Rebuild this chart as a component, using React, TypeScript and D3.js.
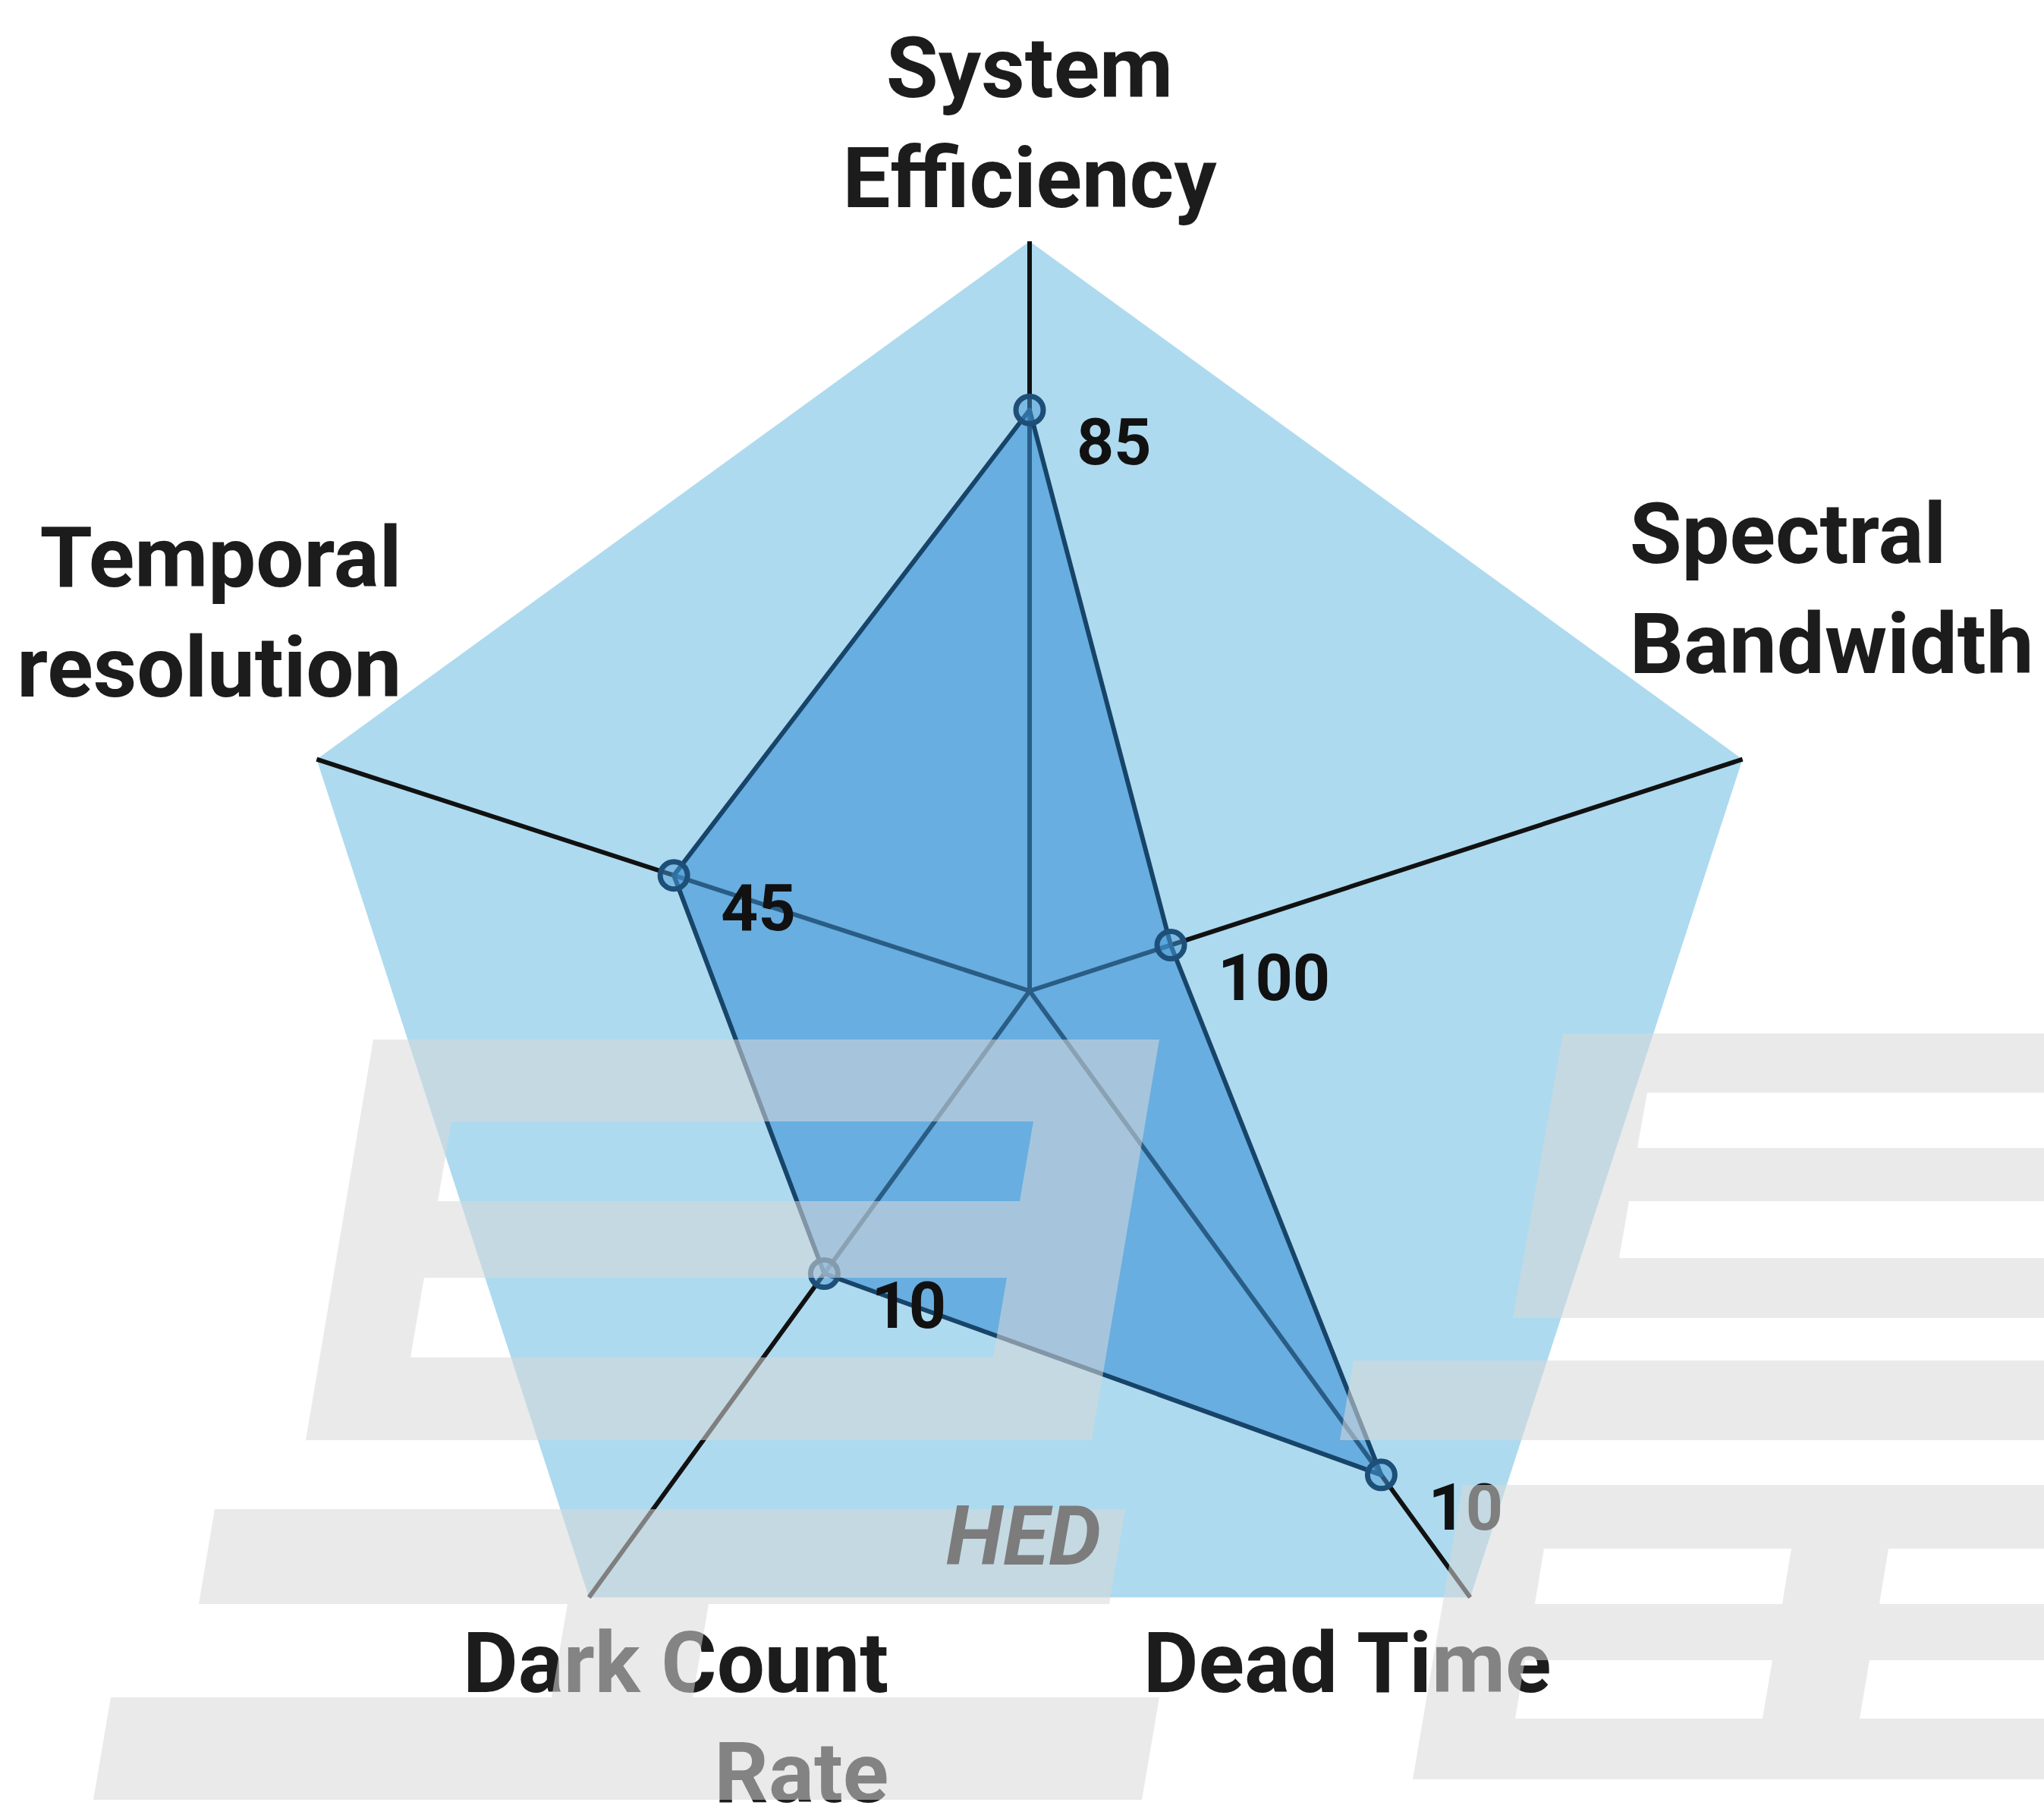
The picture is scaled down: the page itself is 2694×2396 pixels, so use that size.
import React, { useEffect } from 'react';
import * as d3 from 'd3';

// ---- data ----
const categories = ['System Efficiency', 'Spectral Bandwidth', 'Dead Time', 'Dark Count Rate', 'Temporal resolution'];
const axisLabelLines = [['System', 'Efficiency'], ['Spectral', 'Bandwidth'], ['Dead Time'], ['Dark Count', 'Rate'], ['Temporal', 'resolution']];
const values = [0.775, 0.198, 0.798, 0.466, 0.499];
const valueLabels = ['85', '100', '10', '10', '45'];
const watermarkText = 'HED';

// ---- layout ----
const W = 2694;
const H = 2396;
const cx = 1357;
const cy = 1306;
const R = 988;
const FONT = "Roboto, 'Noto Sans', 'DejaVu Sans', sans-serif";

const n = categories.length;
const angle = (i: number) => (i * 2 * Math.PI) / n;
const rScale = d3.scaleLinear().domain([0, 1]).range([0, R]);
const pt = (i: number, v: number): [number, number] => {
  const a = angle(i);
  return [cx + rScale(v) * Math.sin(a), cy - rScale(v) * Math.cos(a)];
};

// label placement relative to each outer vertex: [anchor, dx, dy(first baseline)]
const labelPlacement: [string, number, number][] = [
  ['middle', 0, -190],
  ['start', -149, -259],
  ['start', -431, 125],
  ['end', 395, 125],
  ['end', 112, -228],
];
const LINE_H = 145;

// watermark shapes (evenodd paths)
const poly = (pts: number[][]) => 'M' + pts.map((p) => p.join(',')).join('L') + 'Z';
const watermarkPaths = [
  // left glyph, box with two slots
  poly([[492, 1370], [1528, 1370], [1439, 1898], [403, 1898]]) +
    poly([[595, 1478], [1362, 1478], [1344, 1583], [577, 1583]]) +
    poly([[559, 1684], [1327, 1684], [1309, 1789], [541, 1789]]),
  // left glyph bars
  poly([[283, 1989], [1483, 1989], [1462, 2114], [262, 2114]]),
  poly([[748, 2114], [934, 2114], [913, 2237], [727, 2237]]),
  poly([[146, 2237], [1528, 2237], [1505, 2372], [123, 2372]]),
  // right glyph upper
  poly([[2060, 1362], [2694, 1362], [2694, 1737], [1994, 1737]]) +
    poly([[2171, 1440], [2694, 1440], [2694, 1513], [2158, 1513]]) +
    poly([[2147, 1583], [2694, 1583], [2694, 1658], [2134, 1658]]),
  // right glyph middle bar
  poly([[1784, 1793], [2694, 1793], [2694, 1898], [1766, 1898]]),
  // right glyph lower
  poly([[1928, 1957], [2694, 1957], [2694, 2345], [1862, 2345]]) +
    poly([[2035, 2041], [2361, 2041], [2349, 2114], [2023, 2114]]) +
    poly([[2489, 2041], [2694, 2041], [2694, 2114], [2477, 2114]]) +
    poly([[2010, 2188], [2336, 2188], [2323, 2265], [1997, 2265]]) +
    poly([[2464, 2188], [2694, 2188], [2694, 2265], [2451, 2265]]),
];

export default function App() {
  useEffect(() => {
    document.body.style.margin = '0';
  }, []);

  const outer = categories.map((_, i) => pt(i, 1));
  const radial = d3
    .lineRadial<number>()
    .angle((_, i) => angle(i))
    .radius((d) => rScale(d))
    .curve(d3.curveLinearClosed);
  const frameLine = d3.line().curve(d3.curveLinearClosed);

  return (
    <svg width={W} height={H} style={{ position: 'absolute', left: 0, top: 0, background: '#fff' }}>
      <rect width={W} height={H} fill="#ffffff" />
      <path d={frameLine(outer) || ''} fill="#ADDAEF" />
      {outer.map((p, i) => (
        <line key={i} x1={cx} y1={cy} x2={p[0]} y2={p[1]} stroke="#111111" strokeWidth={6} />
      ))}
      <g transform={`translate(${cx},${cy})`}>
        <path d={radial(values) || ''} fill="#3A91D5" fillOpacity={0.6} stroke="#174468" strokeWidth={6} strokeLinejoin="round" />
      </g>
      {values.map((v, i) => {
        const [x, y] = pt(i, v);
        return <circle key={i} cx={x} cy={y} r={18} fill="#4A9BD8" fillOpacity={0.5} stroke="#1D4F78" strokeWidth={7} />;
      })}
      {values.map((v, i) => {
        const [x, y] = pt(i, v);
        return (
          <text key={i} x={x + 62} y={y + 72} fontFamily={FONT} fontWeight={700} fontSize={86} fill="#111111">
            {valueLabels[i]}
          </text>
        );
      })}
      {axisLabelLines.map((lines, i) => {
        const [x, y] = outer[i];
        const [anchor, dx, dy] = labelPlacement[i];
        return (
          <text key={i} x={x + dx} y={y + dy} textAnchor={anchor as any} fontFamily={FONT} fontWeight={700} fontSize={112} fill="#1C1C1C">
            {lines.map((l, j) => (
              <tspan key={j} x={x + dx} dy={j === 0 ? 0 : LINE_H}>
                {l}
              </tspan>
            ))}
          </text>
        );
      })}
      <g fill="#D9D9D9" opacity={0.55}>
        {watermarkPaths.map((d, i) => (
          <path key={i} d={d} fillRule="evenodd" />
        ))}
      </g>
      <text x={1349} y={2062} textAnchor="middle" fontFamily={FONT} fontWeight={700} fontStyle="italic" fontSize={110} fill="#7C7C7C">
        {watermarkText}
      </text>
    </svg>
  );
}
